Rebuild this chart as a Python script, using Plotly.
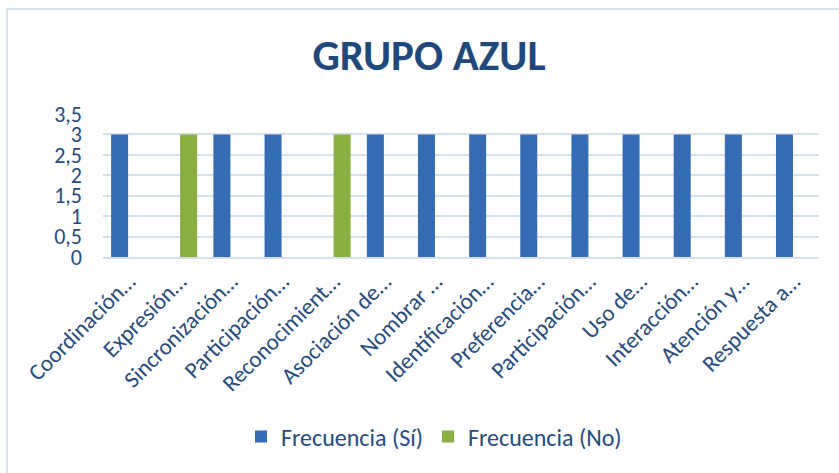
import plotly.graph_objects as go

categories = ["Coordinación…", "Expresión…", "Sincronización…", "Participación…",
              "Reconocimient…", "Asociación de…", "Nombrar …", "Identificación…",
              "Preferencia…", "Participación…", "Uso de…", "Interacción…",
              "Atención y…", "Respuesta a…"]
si_values = [3, 0, 3, 3, 0, 3, 3, 3, 3, 3, 3, 3, 3, 3]
no_values = [0, 3, 0, 0, 3, 0, 0, 0, 0, 0, 0, 0, 0, 0]
series_names = ["Frecuencia (Sí)", "Frecuencia (No)"]

x_pos = list(range(len(categories)))
FONT = "Carlito, Calibri, 'Open Sans', sans-serif"
TXT = "#264b7d"

fig = go.Figure()
fig.add_trace(go.Bar(x=x_pos, y=si_values, name=series_names[0],
                     marker=dict(color="#366cb4", line=dict(width=0))))
fig.add_trace(go.Bar(x=x_pos, y=no_values, name=series_names[1],
                     marker=dict(color="#89ae41", line=dict(width=0))))

fig.update_layout(
    width=839, height=473,
    margin=dict(l=103, r=20, t=114, b=216),
    paper_bgcolor="white", plot_bgcolor="white",
    separators=", ",
    barmode="group", bargap=0.3, bargroupgap=0.05,
    font=dict(family=FONT, color=TXT, size=24),
    title=dict(text="<b>GRUPO AZUL</b>", x=429 / 839, xanchor="center",
               y=1 - 55 / 473, yanchor="middle", yref="container",
               font=dict(size=43, color="#1f497d", family=FONT)),
    xaxis=dict(tickmode="array", tickvals=x_pos, ticktext=categories,
               tickangle=-45, range=[-0.5, len(categories) - 0.5],
               showgrid=False, showline=True, linecolor="#d6e1ef", linewidth=2,
               ticks="", automargin=False, tickfont=dict(size=23, color=TXT)),
    yaxis=dict(range=[0, 3.5], dtick=0.5, showgrid=True, gridcolor="#d6e1ef",
               gridwidth=2, zeroline=False, showline=False, ticks="",
               ticklabelstandoff=20,
               automargin=False, tickfont=dict(size=22, color=TXT)),
    legend=dict(orientation="h", x=(434 - 103) / 716, xanchor="center",
                y=(257 - 437) / 143, yanchor="middle",
                font=dict(size=24, color=TXT)),
    shapes=[dict(type="rect", xref="paper", yref="paper",
                 x0=(7 - 103) / 716, x1=(845 - 103) / 716,
                 y0=(257 - 480) / 143, y1=(257 - 9) / 143,
                 line=dict(color="#d6e1ef", width=2), fillcolor="rgba(0,0,0,0)",
                 layer="below")],
)

fig.write_html("out.html", config={"displayModeBar": False},
               post_script="document.body.style.margin='0';document.body.style.overflow='hidden';")
